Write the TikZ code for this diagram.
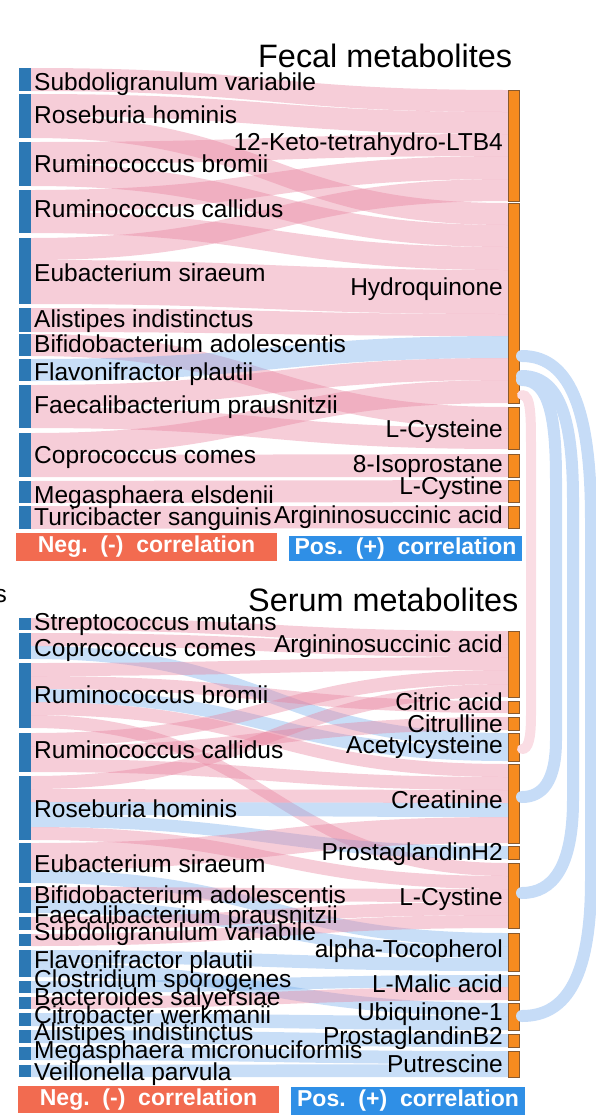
\documentclass[tikz,border=0pt]{standalone}
\usepackage{fontspec}
\setmainfont{Liberation Sans}
\definecolor{negc}{HTML}{E8829E}
\definecolor{posc}{HTML}{76ADEB}
\definecolor{barb}{HTML}{2C78B4}
\definecolor{baro}{HTML}{F68B1F}
\definecolor{barbr}{HTML}{8A5A2E}
\definecolor{negbox}{HTML}{F26B50}
\definecolor{posbox}{HTML}{2F8FE6}
\definecolor{arcb}{HTML}{C6DCF7}
\definecolor{arcp}{HTML}{FADDE4}
\newcommand\rib[5]{\fill[#1] (31,#2) .. controls (270,#2) and (270,#4) .. (508,#4) -- (508,#5) .. controls (270,#5) and (270,#3) .. (31,#3) -- cycle;}
\newcommand\lbar[2]{\fill[barb] (19,#1) rectangle (31,#2);}
\newcommand\rbar[2]{\filldraw[fill=baro, draw=barbr, line width=0.8pt] (508,#1) rectangle (519,#2);}
\tikzset{
  negrib/.style={fill=negc, fill opacity=0.4},
  posrib/.style={fill=posc, fill opacity=0.4},
  lab/.style={inner sep=0pt, font=\fontsize{24.5}{24}\selectfont},
  llab/.style={lab, anchor=base west},
  rlab/.style={lab, anchor=base east},
  ttl/.style={inner sep=0pt, anchor=base west, font=\fontsize{32.4}{32}\selectfont},
  negbx/.style={fill=negbox, text=white, inner sep=0pt, font=\bfseries\fontsize{23}{23}\selectfont},
  posbx/.style={fill=posbox, text=white, inner sep=0pt, font=\bfseries\fontsize{23}{23}\selectfont},
  arcline/.style={line width=12pt, line cap=round},
}
\begin{document}
\begin{tikzpicture}[x=1pt, y=-1pt]
\useasboundingbox (0,0) rectangle (596,1117);
% ---------- fecal ribbons
\rib{negrib}{68}{91}{90}{112}
\rib{negrib}{94}{116}{112}{134}
\rib{negrib}{116}{138}{203}{225}
\rib{negrib}{142}{164}{134}{156}
\rib{negrib}{164}{186}{225}{247}
\rib{negrib}{190}{212}{156}{179}
\rib{negrib}{212}{233}{247}{270}
\rib{negrib}{238}{260}{179}{201}
\rib{negrib}{260}{304}{270}{314}
\rib{negrib}{308}{332}{314}{336}
\rib{negrib}{334}{356}{407}{428}
\rib{posrib}{359}{381}{336}{358}
\rib{negrib}{385}{407}{358}{380}
\rib{negrib}{407}{428}{428}{449}
\rib{negrib}{433}{455}{380}{403}
\rib{negrib}{455}{477}{454}{477}
\rib{negrib}{481}{503}{480}{502}
\rib{negrib}{506}{529}{506}{528}
% ---------- serum ribbons
\rib{negrib}{618}{630}{631}{644}
\rib{negrib}{633}{646}{644}{657}
\rib{posrib}{646}{659}{733}{747}
\rib{negrib}{663}{676}{657}{670}
\rib{negrib}{676}{689}{701}{713}
\rib{posrib}{689}{702}{747}{761}
\rib{negrib}{702}{715}{764}{777}
\rib{negrib}{715}{728}{863}{876}
\rib{negrib}{733}{746}{670}{684}
\rib{negrib}{746}{759}{717}{730}
\rib{negrib}{759}{772}{777}{790}
\rib{negrib}{776}{789}{684}{697}
\rib{negrib}{789}{802}{790}{803}
\rib{posrib}{802}{815}{803}{817}
\rib{posrib}{815}{827}{846}{859}
\rib{negrib}{827}{840}{876}{889}
\rib{negrib}{843}{870}{817}{843}
\rib{posrib}{870}{883}{933}{946}
\rib{negrib}{887}{900}{889}{902}
\rib{posrib}{900}{913}{946}{958}
\rib{negrib}{917}{930}{902}{915}
\rib{negrib}{934}{946}{915}{928}
\rib{posrib}{950}{963}{958}{971}
\rib{posrib}{963}{977}{1003}{1016}
\rib{posrib}{981}{993}{975}{987}
\rib{negrib}{997}{1009}{987}{1000}
\rib{posrib}{1013}{1026}{1016}{1030}
\rib{posrib}{1030}{1043}{1034}{1047}
\rib{posrib}{1047}{1060}{1051}{1064}
\rib{posrib}{1065}{1077}{1064}{1077}
% ---------- bars
\lbar{68}{91}\lbar{94}{138}\lbar{142}{186}\lbar{190}{233}\lbar{238}{304}\lbar{308}{332}
\lbar{334}{356}\lbar{359}{381}\lbar{385}{428}\lbar{433}{477}\lbar{481}{503}\lbar{506}{529}
\rbar{90}{201}\rbar{203}{403}\rbar{407}{449}\rbar{454}{477}\rbar{480}{502}\rbar{506}{528}
\lbar{618}{630}\lbar{633}{659}\lbar{663}{728}\lbar{733}{772}\lbar{776}{840}\lbar{843}{883}
\lbar{887}{913}\lbar{917}{930}\lbar{934}{946}\lbar{950}{977}\lbar{981}{993}\lbar{997}{1009}
\lbar{1013}{1026}\lbar{1030}{1043}\lbar{1047}{1060}\lbar{1065}{1077}
\rbar{631}{697}\rbar{701}{713}\rbar{717}{730}\rbar{733}{761}\rbar{764}{843}\rbar{846}{859}
\rbar{863}{928}\rbar{933}{971}\rbar{975}{1000}\rbar{1003}{1030}\rbar{1034}{1047}\rbar{1051}{1077}
% ---------- arcs between fecal and serum metabolites
\coordinate (h1) at (522,395); \coordinate (acet) at (522,749);
\coordinate (h2) at (522,380); \coordinate (crea) at (522,797);
\coordinate (h3) at (522,376); \coordinate (lcys) at (522,893);
\coordinate (h4) at (522,356); \coordinate (ubiq) at (522,1016);
\draw[arcline, arcp, line width=10pt] (h1) .. controls (531,395) and (531,415) .. (531,450) -- (531,715) .. controls (531,740) and (528,749) .. (acet);
\draw[arcline, arcb] (h2) .. controls (550,380) and (556,420) .. (556,480) -- (556,740) .. controls (556,782) and (542,797) .. (crea);
\draw[arcline, arcb] (h3) .. controls (562,376) and (573,425) .. (573,500) -- (573,800) .. controls (573,868) and (552,893) .. (lcys);
\draw[arcline, arcb] (h4) .. controls (574,356) and (591,420) .. (591,520) -- (591,880) .. controls (591,985) and (562,1016) .. (ubiq);
% ---------- titles
\node[ttl] (tf) at (258,67) {Fecal metabolites};
\node[ttl] (ts) at (248,611) {Serum metabolites};
\node[rlab] (stray) at (7,602) {s};
% ---------- fecal labels
\node[llab] (f1) at (34,90) {Subdoligranulum variabile};
\node[llab] (f2) at (34,123) {Roseburia hominis};
\node[llab] (f3) at (34,172) {Ruminococcus bromii};
\node[llab] (f4) at (34,217) {Ruminococcus callidus};
\node[llab] (f5) at (34,281) {Eubacterium siraeum};
\node[llab] (f6) at (34,327) {Alistipes indistinctus};
\node[llab] (f7) at (34,352) {Bifidobacterium adolescentis};
\node[llab] (f8) at (34,380) {Flavonifractor plautii};
\node[llab] (f9) at (34,413) {Faecalibacterium prausnitzii};
\node[llab] (f10) at (34,463) {Coprococcus comes};
\node[llab] (f11) at (34,503) {Megasphaera elsdenii};
\node[llab] (f12) at (34,525) {Turicibacter sanguinis};
\node[rlab] (fm1) at (503,150) {12-Keto-tetrahydro-LTB4};
\node[rlab] (fm2) at (503,295) {Hydroquinone};
\node[rlab] (fm3) at (503,437) {L-Cysteine};
\node[rlab] (fm4) at (503,472) {8-Isoprostane};
\node[rlab] (fm5) at (503,494) {L-Cystine};
\node[rlab] (fm6) at (503,523) {Argininosuccinic acid};
% ---------- serum labels
\node[llab] (s1) at (34,630) {Streptococcus mutans};
\node[llab] (s2) at (34,656) {Coprococcus comes};
\node[llab] (s3) at (34,703) {Ruminococcus bromii};
\node[llab] (s4) at (34,758) {Ruminococcus callidus};
\node[llab] (s5) at (34,817) {Roseburia hominis};
\node[llab] (s6) at (34,872) {Eubacterium siraeum};
\node[llab] (s7) at (34,903) {Bifidobacterium adolescentis};
\node[llab] (s8) at (34,923) {Faecalibacterium prausnitzii};
\node[llab] (s9) at (34,940) {Subdoligranulum variabile};
\node[llab] (s10) at (34,968) {Flavonifractor plautii};
\node[llab] (s11) at (34,987) {Clostridium sporogenes};
\node[llab] (s12) at (34,1005) {Bacteroides salyersiae};
\node[llab] (s13) at (34,1023) {Citrobacter werkmanii};
\node[llab] (s14) at (34,1040) {Alistipes indistinctus};
\node[llab] (s15) at (34,1058) {Megasphaera micronuciformis};
\node[llab] (s16) at (34,1080) {Veillonella parvula};
\node[rlab] (sm1) at (503,652) {Argininosuccinic acid};
\node[rlab] (sm2) at (503,710) {Citric acid};
\node[rlab] (sm3) at (503,732) {Citrulline};
\node[rlab] (sm4) at (503,753) {Acetylcysteine};
\node[rlab] (sm5) at (503,808) {Creatinine};
\node[rlab] (sm6) at (503,860) {ProstaglandinH2};
\node[rlab] (sm7) at (503,905) {L-Cystine};
\node[rlab] (sm8) at (503,957) {alpha-Tocopherol};
\node[rlab] (sm9) at (503,992) {L-Malic acid};
\node[rlab] (sm10) at (503,1020) {Ubiquinone-1};
\node[rlab] (sm11) at (503,1044) {ProstaglandinB2};
\node[rlab] (sm12) at (503,1072) {Putrescine};
% ---------- legend boxes
\node[negbx, minimum width=261pt, minimum height=28pt] (nf) at (146.5,547) {Neg.\ \ (-)\ \ correlation};
\node[posbx, minimum width=233pt, minimum height=25pt] (pf) at (405.5,548.5) {Pos.\ \ (+)\ \ correlation};
\node[negbx, minimum width=261pt, minimum height=27pt] (ns) at (148.5,1099.5) {Neg.\ \ (-)\ \ correlation};
\node[posbx, minimum width=234pt, minimum height=28pt] (ps) at (408,1101) {Pos.\ \ (+)\ \ correlation};
\end{tikzpicture}
\end{document}
